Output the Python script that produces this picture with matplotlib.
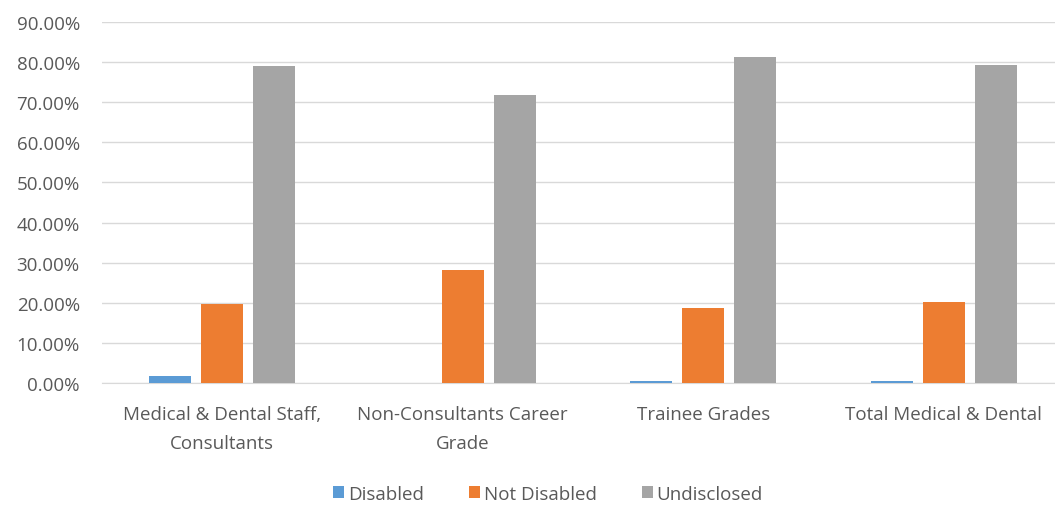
import numpy as np
import matplotlib.pyplot as plt
from matplotlib.ticker import PercentFormatter

# Chart data
categories = ['Medical & Dental Staff,\nConsultants', 'Non-Consultants Career\nGrade',
              'Trainee Grades', 'Total Medical & Dental']
series_names = ['Disabled', 'Not Disabled', 'Undisclosed']
disabled = [1.7, 0.0, 0.6, 0.6]
not_disabled = [19.8, 28.2, 18.7, 20.2]
undisclosed = [79.1, 71.8, 81.2, 79.3]
colors = ['#5B9BD5', '#ED7D31', '#A5A5A5']

plt.rcParams['font.family'] = ['Open Sans', 'DejaVu Sans']

fig = plt.figure(figsize=(10.55, 5.10), dpi=100)
ax = fig.add_axes([102 / 1055, 1 - 384 / 510, 962 / 1055, 361 / 510])

x = np.arange(len(categories))
width = 0.175
offset = 0.217
for i, (vals, name, c) in enumerate(zip([disabled, not_disabled, undisclosed], series_names, colors)):
    ax.bar(x + (i - 1) * offset, vals, width, color=c, label=name, zorder=3)

ax.set_xlim(-0.5, len(categories) - 0.5)
ax.set_ylim(0, 90)
ax.set_yticks(np.arange(0, 91, 10))
ax.yaxis.set_major_formatter(PercentFormatter(decimals=2))
ax.grid(axis='y', color='#D9D9D9', linewidth=1, zorder=0)
for s in ['top', 'right', 'left']:
    ax.spines[s].set_visible(False)
ax.spines['bottom'].set_color('#D9D9D9')
ax.tick_params(axis='both', length=0, labelsize=13.5, labelcolor='#595959')
ax.tick_params(axis='y', pad=16)
ax.tick_params(axis='x', pad=16)
ax.set_xticks(x)
ax.set_xticklabels(categories, linespacing=1.75)

fig.legend(loc='center', bbox_to_anchor=(548 / 1055, 1 - 495 / 510), ncol=3, frameon=False,
           fontsize=13.5, labelcolor='#595959', handlelength=0.6, handleheight=0.6,
           handletextpad=0.2, columnspacing=2.4)

fig.savefig('out.png', dpi=100)
